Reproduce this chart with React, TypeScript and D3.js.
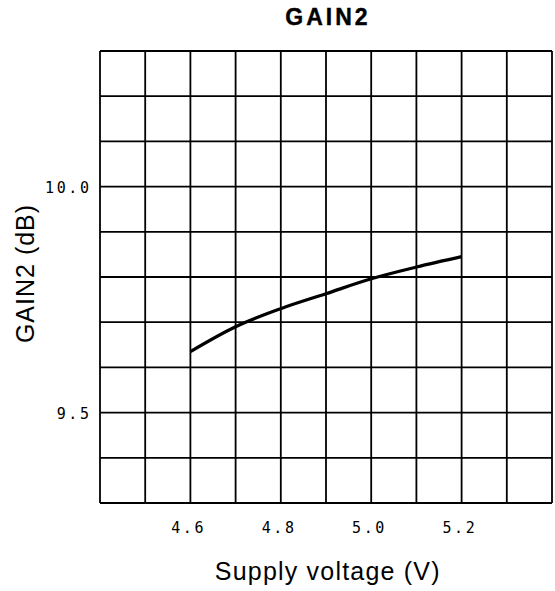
import React from "react";
import * as d3 from "d3";

const supplyVoltage = [4.6, 4.7, 4.8, 4.9, 5.0, 5.1, 5.2];
const gain2 = [9.635, 9.69, 9.73, 9.763, 9.796, 9.822, 9.845];
const xTicks = [4.6, 4.8, 5.0, 5.2];
const yTicks = [9.5, 10.0];
const xDomain = [4.4, 5.4];
const yDomain = [9.3, 10.3];

const W = 555;
const H = 591;
const M = { left: 100, right: 3, top: 51, bottom: 88 };
const TICK_LS = 2.6;

export default function App() {
  const x = d3.scaleLinear().domain(xDomain).range([M.left, W - M.right]);
  const y = d3.scaleLinear().domain(yDomain).range([H - M.bottom, M.top]);
  const xGrid = d3.range(0, 11).map((i) => xDomain[0] + i * 0.1);
  const yGrid = d3.range(0, 11).map((i) => yDomain[0] + i * 0.1);
  const line = d3
    .line<number>()
    .x((_, i) => x(supplyVoltage[i]))
    .y((d) => y(d))
    .curve(d3.curveMonotoneX);

  return (
    <svg
      width={W}
      height={H}
      style={{ position: "absolute", left: 0, top: 0, background: "#fff" }}
    >
      <text
        x={326.5 + 1.5}
        y={25}
        textAnchor="middle"
        fontFamily="Liberation Sans, Arial, sans-serif"
        fontWeight="bold"
        fontSize={23}
        letterSpacing={3}
        stroke="#000"
        strokeWidth={0.4}
      >
        GAIN2
      </text>
      {xGrid.map((v, i) => (
        <line
          key={"vx" + i}
          x1={x(v)}
          x2={x(v)}
          y1={y(yDomain[0])}
          y2={y(yDomain[1])}
          stroke="#000"
          strokeWidth={1.8}
        />
      ))}
      {yGrid.map((v, i) => (
        <line
          key={"hy" + i}
          x1={x(xDomain[0])}
          x2={x(xDomain[1])}
          y1={y(v)}
          y2={y(v)}
          stroke="#000"
          strokeWidth={1.8}
        />
      ))}
      <path
        d={line(gain2) || ""}
        fill="none"
        stroke="#000"
        strokeWidth={3.2}
      />
      {xTicks.map((t) => (
        <text
          key={"xt" + t}
          x={x(t) - 3 + TICK_LS / 2}
          y={H - M.bottom + 30}
          textAnchor="middle"
          fontFamily="DejaVu Sans Mono, monospace"
          fontSize={15}
          letterSpacing={TICK_LS}
        >
          {t.toFixed(1)}
        </text>
      ))}
      {yTicks.map((t) => (
        <text
          key={"yt" + t}
          x={89 + TICK_LS}
          y={y(t) + 6}
          textAnchor="end"
          fontFamily="DejaVu Sans Mono, monospace"
          fontSize={15}
          letterSpacing={TICK_LS}
        >
          {t.toFixed(1)}
        </text>
      ))}
      <text
        x={327 + 0.75}
        y={580}
        textAnchor="middle"
        fontFamily="Liberation Sans, Arial, sans-serif"
        fontSize={25}
        letterSpacing={1.2}
      >
        Supply voltage (V)
      </text>
      <text
        transform={`translate(34,${274 - 0.5}) rotate(-90)`}
        textAnchor="middle"
        fontFamily="Liberation Sans, Arial, sans-serif"
        fontSize={25}
        letterSpacing={1}
      >
        GAIN2 (dB)
      </text>
    </svg>
  );
}
